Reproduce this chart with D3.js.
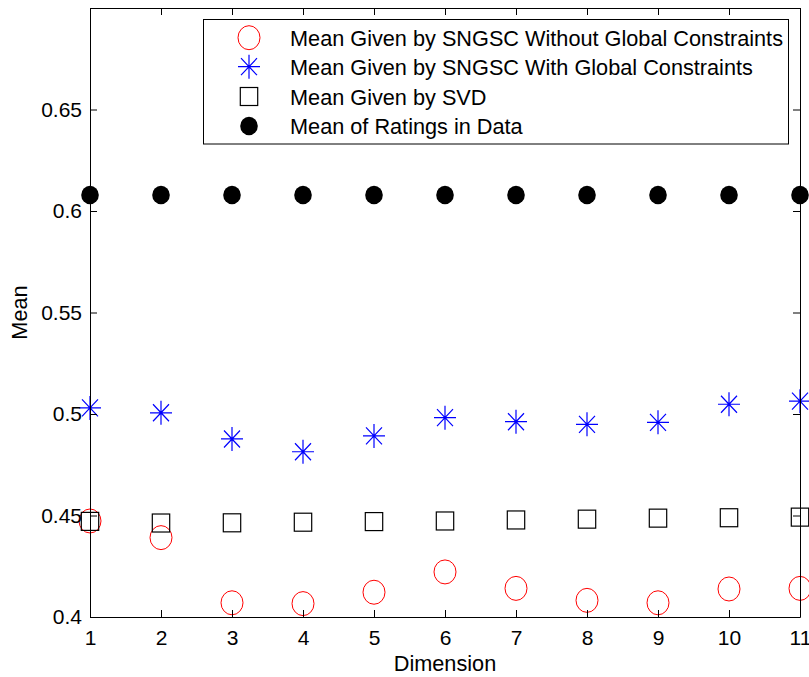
<!DOCTYPE html>
<meta charset="utf-8">
<style>
body { margin: 0; background: #fff; }
svg { font-family: "Liberation Sans", Arial, Helvetica, sans-serif; }
.axis path, .axis line { stroke: #000; stroke-width: 1; }
.axis text { font-size: 21px; fill: #000; }
</style>
<svg width="809" height="677"></svg>
<script src="https://d3js.org/d3.v7.min.js"></script>
<script>

var dims = [1, 2, 3, 4, 5, 6, 7, 8, 9, 10, 11];
var meanNoGlobal = [0.4473, 0.4391, 0.4070, 0.4066, 0.4122, 0.4222, 0.4141, 0.4082, 0.4070, 0.4138, 0.4141];
var meanGlobal   = [0.5030, 0.5006, 0.4877, 0.4814, 0.4892, 0.4982, 0.4962, 0.4949, 0.4959, 0.5048, 0.5063];
var meanSVD      = [0.4471, 0.4463, 0.4464, 0.4467, 0.4470, 0.4473, 0.4478, 0.4482, 0.4487, 0.4489, 0.4492];
var meanData     = [0.6079, 0.6079, 0.6079, 0.6079, 0.6079, 0.6079, 0.6079, 0.6079, 0.6079, 0.6079, 0.6079];
var yTicks = [0.4, 0.45, 0.5, 0.55, 0.6, 0.65];
var legendLabels = [
  "Mean Given by SNGSC Without Global Constraints",
  "Mean Given by SNGSC With Global Constraints",
  "Mean Given by SVD",
  "Mean of Ratings in Data"
];

var svg = d3.select("svg"),
    margin = {top: 8, left: 90},
    width = 710,
    height = 609;

var g = svg.append("g").attr("transform", "translate(" + margin.left + "," + margin.top + ")");

var x = d3.scaleLinear().domain([1, 11]).range([0, width]);
var y = d3.scaleLinear().domain([0.4, 0.7]).range([height, 0]);

// marker shapes, drawn like matlab's o * s .
function drawCircle(sel) {
  sel.append("ellipse").attr("rx", 11).attr("ry", 12)
    .attr("fill", "none").attr("stroke", "#ff0000").attr("stroke-width", 1);
}
function drawStar(sel) {
  var p = "M-11,0L11,0M0,-12L0,12M-8,-8.5L8,8.5M-8,8.5L8,-8.5";
  sel.append("path").attr("d", p).attr("stroke", "#0000ff").attr("stroke-width", 1.2).attr("fill", "none");
}
function drawSquare(sel) {
  sel.append("rect").attr("x", -8.7).attr("y", -9).attr("width", 17.4).attr("height", 18)
    .attr("fill", "none").attr("stroke", "#000").attr("stroke-width", 1.2);
}
function drawDot(sel) {
  sel.append("ellipse").attr("rx", 8.8).attr("ry", 9.2).attr("fill", "#000");
}

var series = [
  {values: meanNoGlobal, draw: drawCircle},
  {values: meanGlobal, draw: drawStar},
  {values: meanSVD, draw: drawSquare},
  {values: meanData, draw: drawDot}
];

series.forEach(function(s) {
  g.append("g").selectAll("g")
    .data(dims)
    .enter().append("g")
    .attr("transform", function(d, i) { return "translate(" + x(d) + "," + y(s.values[i]) + ")"; })
    .each(function() { s.draw(d3.select(this)); });
});

// axes, ticks pointing in, box all round
g.append("g").attr("class", "axis")
  .attr("transform", "translate(0," + height + ")")
  .call(d3.axisBottom(x).tickValues(dims).tickFormat(d3.format("d")).tickSizeInner(-7).tickSizeOuter(0).tickPadding(13));
g.append("g").attr("class", "axis")
  .call(d3.axisTop(x).tickValues(dims).tickFormat("").tickSizeInner(-7).tickSizeOuter(0));
g.append("g").attr("class", "axis")
  .call(d3.axisLeft(y).tickValues(yTicks).tickFormat(function(d) { return d3.format("")(+d.toFixed(2)); }).tickSizeInner(-7).tickSizeOuter(0).tickPadding(8));
g.append("g").attr("class", "axis")
  .attr("transform", "translate(" + width + ",0)")
  .call(d3.axisRight(y).tickValues(yTicks).tickFormat("").tickSizeInner(-7).tickSizeOuter(0));

g.selectAll(".axis text").attr("font-family", null).attr("font-size", null);

// axis titles
svg.append("text")
  .attr("x", margin.left + width / 2).attr("y", 671)
  .attr("text-anchor", "middle").attr("font-size", 21.7)
  .text("Dimension");
svg.append("text")
  .attr("transform", "translate(27," + (margin.top + height / 2) + ") rotate(-90)")
  .attr("text-anchor", "middle").attr("font-size", 21.7)
  .text("Mean");

// legend
var legend = svg.append("g");
legend.append("rect")
  .attr("x", 203.5).attr("y", 19.5).attr("width", 585).attr("height", 124.5)
  .attr("fill", "#fff").attr("stroke", "#000").attr("stroke-width", 1);

var rowY = [37.7, 66.7, 96.5, 126];
legendLabels.forEach(function(label, i) {
  var row = legend.append("g").attr("transform", "translate(249," + rowY[i] + ")");
  series[i].draw(row);
  legend.append("text")
    .attr("x", 290).attr("y", rowY[i] + 8)
    .attr("font-size", 21.7)
    .text(label);
});

</script>
